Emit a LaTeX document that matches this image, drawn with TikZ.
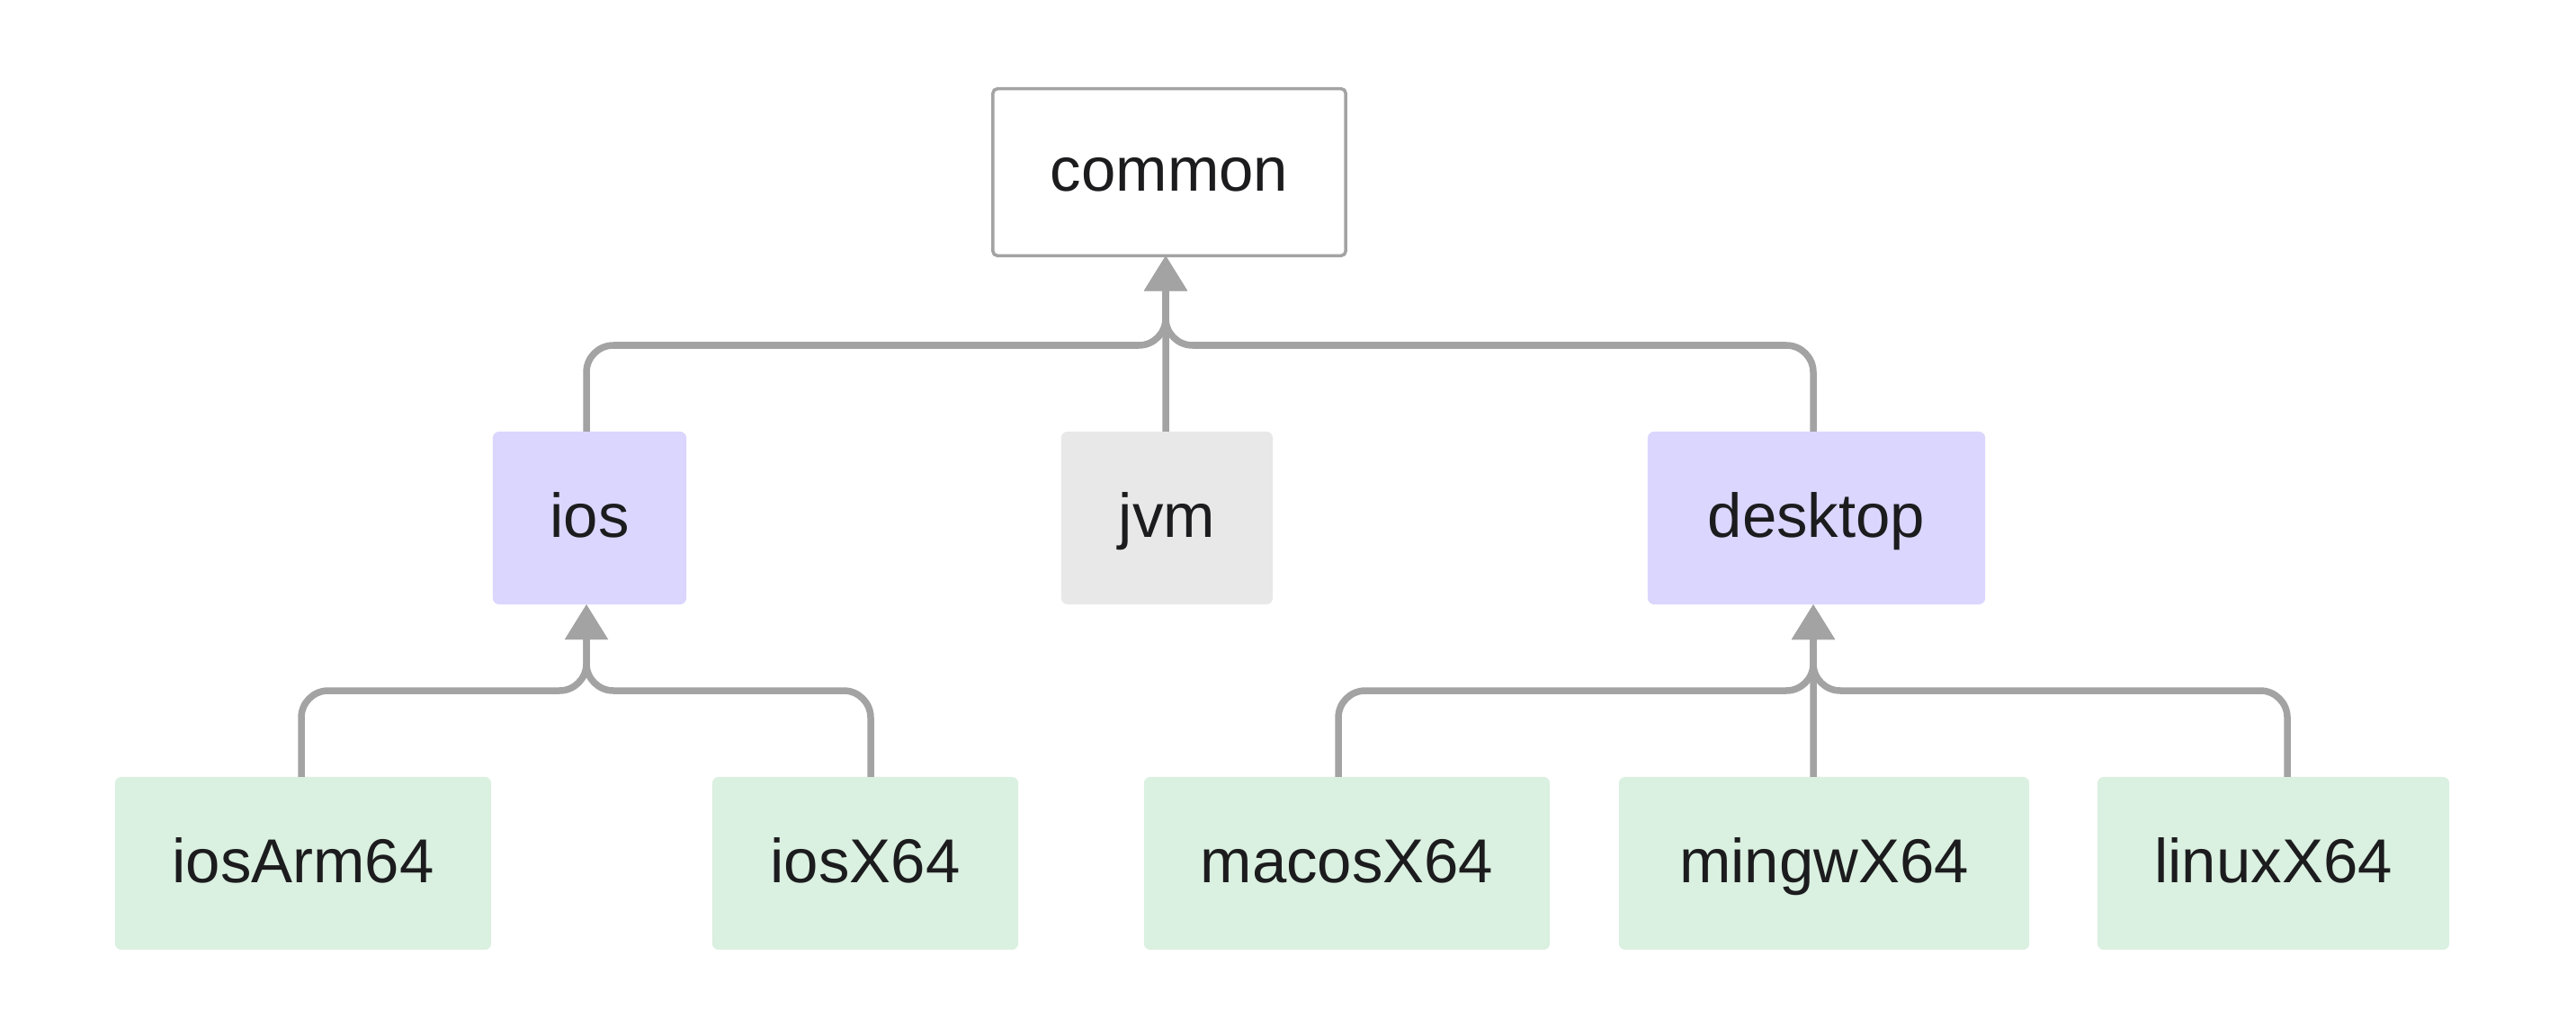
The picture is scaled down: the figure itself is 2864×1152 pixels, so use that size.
\documentclass[tikz,border=0pt]{standalone}
\usepackage{fontspec}
\setmainfont{Liberation Sans}
\usetikzlibrary{arrows.meta}
\definecolor{edgegrey}{HTML}{A3A3A3}
\definecolor{boxborder}{HTML}{A3A3A3}
\definecolor{purplefill}{HTML}{DAD6FE}
\definecolor{greenfill}{HTML}{DAF0E0}
\definecolor{greyfill}{HTML}{E8E8E8}
\definecolor{txt}{HTML}{1C1C1E}
\begin{document}
\begin{tikzpicture}[x=0.01cm,y=-0.01cm,
  box/.style={rectangle, rounded corners=0.07cm, inner sep=0pt, outer sep=0pt,
    minimum height=1.92cm, text=txt, font=\fontsize{19.6}{23}\selectfont,
    text height=14pt, text depth=2.0pt},
  topbox/.style={box, draw=boxborder, line width=0.035cm, fill=white, rounded corners=0.05cm},
  midbox/.style={box, fill=purplefill},
  jvmbox/.style={box, fill=greyfill},
  leafbox/.style={box, fill=greenfill},
  edge/.style={draw=edgegrey, line width=0.075cm, rounded corners=0.3cm,
    -{Triangle[width=0.46cm,length=0.39cm]}}
]
\fill[white] (0,0) rectangle (2864,1152);
\useasboundingbox (0,0) rectangle (2864,1152);

\node[topbox, minimum width=3.92cm, minimum height=1.855cm] (common) at (1300,191.5) {common};
\node[midbox, minimum width=2.15cm] (ios) at (655.5,576) {ios};
\node[jvmbox, minimum width=2.35cm] (jvm) at (1297.5,576) {jvm};
\node[midbox, minimum width=3.75cm] (desktop) at (2019.5,576) {desktop};
\node[leafbox, minimum width=4.18cm] (iosArm64) at (337,960) {iosArm64};
\node[leafbox, minimum width=3.40cm] (iosX64) at (962,960) {iosX64};
\node[leafbox, minimum width=4.51cm] (macosX64) at (1497.5,960) {macosX64};
\node[leafbox, minimum width=4.56cm] (mingwX64) at (2028,960) {mingwX64};
\node[leafbox, minimum width=3.91cm] (linuxX64) at (2527.5,960) {linuxX64};

\coordinate (jtop) at (1296,384);
\coordinate (jios) at (652,768);
\coordinate (jdesk) at (2016,768);

\draw[edge] ([xshift=-0.035cm]ios.north) |- (jtop) -- ([xshift=-0.04cm]common.south);
\draw[edge] ([xshift=-0.015cm]jvm.north) -- ([xshift=-0.04cm]common.south);
\draw[edge] ([xshift=-0.035cm]desktop.north) |- (jtop) -- ([xshift=-0.04cm]common.south);

\draw[edge] ([xshift=-0.02cm]iosArm64.north) |- (jios) -- ([xshift=-0.035cm]ios.south);
\draw[edge] ([xshift=0.06cm]iosX64.north) |- (jios) -- ([xshift=-0.035cm]ios.south);

\draw[edge] ([xshift=-0.095cm]macosX64.north) |- (jdesk) -- ([xshift=-0.035cm]desktop.south);
\draw[edge] ([xshift=-0.12cm]mingwX64.north) -- ([xshift=-0.035cm]desktop.south);
\draw[edge] ([xshift=0.155cm]linuxX64.north) |- (jdesk) -- ([xshift=-0.035cm]desktop.south);
\end{tikzpicture}
\end{document}
